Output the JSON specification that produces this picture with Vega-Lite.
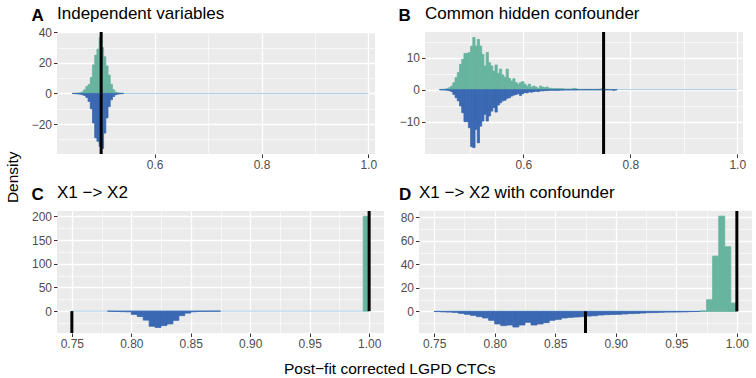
{
  "$schema": "https://vega.github.io/schema/vega-lite/v6.json",
  "background": "white",
  "padding": 5,
  "config": {
    "font": "Liberation Sans",
    "view": {"fill": "#ebebeb", "stroke": null},
    "rect": {"opacity": 1, "strokeWidth": 0.8},
    "axis": {"domain": false, "gridColor": "#ffffff", "tickColor": "#333333", "tickSize": 3.5, "tickWidth": 1, "labelColor": "#4d4d4d", "labelFontSize": 12, "labelPadding": 2, "labelFlush": false, "labelOverlap": false},
    "axisY": {"titleAngle": 0, "titleAlign": "left", "titleBaseline": "alphabetic", "titleY": -12, "titleFontSize": 17, "titleFontWeight": "bold", "titleColor": "black", "titleFont": "Liberation Sans"},
    "title": {"anchor": "start", "frame": "group", "fontSize": 17, "fontWeight": "normal", "color": "black", "offset": -17}
  },
  "datasets": {
    "zero": [
      {"p": "A", "x": 0.4455, "xe": 1.0, "y": 0},
      {"p": "B", "x": 0.444, "xe": 1.0, "y": 0},
      {"p": "C", "x": 0.75, "xe": 1.0, "y": 0},
      {"p": "D", "x": 0.75, "xe": 1.0, "y": 0}
    ],
    "truth": [
      {"p": "A", "x": 0.5, "y": 0, "ye": 40.2},
      {"p": "A", "x": 0.5, "y": 0, "ye": -39.6},
      {"p": "B", "x": 0.75, "y": 0, "ye": 18.0},
      {"p": "B", "x": 0.75, "y": 0, "ye": -20.1},
      {"p": "C", "x": 1.0, "y": 0, "ye": 211.2},
      {"p": "C", "x": 0.75, "y": 0, "ye": -46.2},
      {"p": "D", "x": 1.0, "y": 0, "ye": 85.4},
      {"p": "D", "x": 0.875, "y": 0, "ye": -18.4}
    ],
    "hist": [
      {"p":"A","x":0.44645,"xe":0.4506,"g":0.1,"b":-0.1},
      {"p":"A","x":0.4506,"xe":0.45475,"g":0.15,"b":-0.2},
      {"p":"A","x":0.45475,"xe":0.4589,"g":0.25,"b":-0.3},
      {"p":"A","x":0.4589,"xe":0.46305,"g":0.4,"b":-0.5},
      {"p":"A","x":0.46305,"xe":0.4672,"g":1.0,"b":-0.8},
      {"p":"A","x":0.4672,"xe":0.47135,"g":2.4,"b":-1.3},
      {"p":"A","x":0.47135,"xe":0.4755,"g":4.6,"b":-2.6},
      {"p":"A","x":0.4755,"xe":0.47965,"g":5.8,"b":-5.2},
      {"p":"A","x":0.47965,"xe":0.4838,"g":10.5,"b":-10},
      {"p":"A","x":0.4838,"xe":0.48795,"g":18.7,"b":-19.3},
      {"p":"A","x":0.48795,"xe":0.4921,"g":25,"b":-29},
      {"p":"A","x":0.4921,"xe":0.49625,"g":29,"b":-31.3},
      {"p":"A","x":0.49625,"xe":0.5004,"g":36.6,"b":-34.6},
      {"p":"A","x":0.5004,"xe":0.50455,"g":30,"b":-36},
      {"p":"A","x":0.50455,"xe":0.5087,"g":24,"b":-25.9},
      {"p":"A","x":0.5087,"xe":0.51285,"g":18,"b":-16},
      {"p":"A","x":0.51285,"xe":0.517,"g":12,"b":-8.5},
      {"p":"A","x":0.517,"xe":0.52115,"g":6,"b":-4.1},
      {"p":"A","x":0.52115,"xe":0.5253,"g":2.4,"b":-2},
      {"p":"A","x":0.5253,"xe":0.52945,"g":0.9,"b":-0.8},
      {"p":"A","x":0.52945,"xe":0.5336,"g":0.4,"b":-0.4},
      {"p":"A","x":0.5336,"xe":0.53775,"g":0.2,"b":-0.2},
      {"p":"A","x":0.53775,"xe":0.5419,"g":0.1,"b":-0.1},

      {"p":"B","x":0.4432,"xe":0.44735,"g":0.05,"b":-0.05},
      {"p":"B","x":0.44735,"xe":0.4515,"g":0.1,"b":-0.1},
      {"p":"B","x":0.4515,"xe":0.45565,"g":0.15,"b":-0.1},
      {"p":"B","x":0.45565,"xe":0.4598,"g":0.3,"b":-0.2},
      {"p":"B","x":0.4598,"xe":0.46395,"g":0.6,"b":-0.3},
      {"p":"B","x":0.46395,"xe":0.4681,"g":1.1,"b":-0.6},
      {"p":"B","x":0.4681,"xe":0.47225,"g":2.2,"b":-1.5},
      {"p":"B","x":0.47225,"xe":0.4764,"g":3.75,"b":-2.5},
      {"p":"B","x":0.4764,"xe":0.48055,"g":5.3,"b":-3.5},
      {"p":"B","x":0.48055,"xe":0.4847,"g":7.9,"b":-5.1},
      {"p":"B","x":0.4847,"xe":0.48885,"g":9.5,"b":-7.2},
      {"p":"B","x":0.48885,"xe":0.493,"g":11.3,"b":-10},
      {"p":"B","x":0.493,"xe":0.49715,"g":11.3,"b":-10},
      {"p":"B","x":0.49715,"xe":0.5013,"g":11.6,"b":-11.9},
      {"p":"B","x":0.5013,"xe":0.50545,"g":13.6,"b":-17.8},
      {"p":"B","x":0.50545,"xe":0.5096,"g":16.3,"b":-18.1},
      {"p":"B","x":0.5096,"xe":0.51375,"g":13.6,"b":-12.4},
      {"p":"B","x":0.51375,"xe":0.5179,"g":15.7,"b":-16.6},
      {"p":"B","x":0.5179,"xe":0.52205,"g":13.6,"b":-11.4},
      {"p":"B","x":0.52205,"xe":0.5262,"g":11,"b":-9.8},
      {"p":"B","x":0.5262,"xe":0.53035,"g":7.4,"b":-7.7},
      {"p":"B","x":0.53035,"xe":0.5345,"g":11.6,"b":-9.8},
      {"p":"B","x":0.5345,"xe":0.53865,"g":8.4,"b":-8.2},
      {"p":"B","x":0.53865,"xe":0.5428,"g":7.4,"b":-6.7},
      {"p":"B","x":0.5428,"xe":0.54695,"g":5.8,"b":-5.6},
      {"p":"B","x":0.54695,"xe":0.5511,"g":7.7,"b":-7},
      {"p":"B","x":0.5511,"xe":0.55525,"g":5.1,"b":-4.8},
      {"p":"B","x":0.55525,"xe":0.5594,"g":6.4,"b":-4.1},
      {"p":"B","x":0.5594,"xe":0.56355,"g":4.6,"b":-3.5},
      {"p":"B","x":0.56355,"xe":0.5677,"g":3.8,"b":-3.3},
      {"p":"B","x":0.5677,"xe":0.57185,"g":6.4,"b":-2.7},
      {"p":"B","x":0.57185,"xe":0.576,"g":3.5,"b":-2.5},
      {"p":"B","x":0.576,"xe":0.58015,"g":2.7,"b":-2},
      {"p":"B","x":0.58015,"xe":0.5843,"g":3.4,"b":-1.7},
      {"p":"B","x":0.5843,"xe":0.58845,"g":2.2,"b":-1.5},
      {"p":"B","x":0.58845,"xe":0.5926,"g":1.7,"b":-1.25},
      {"p":"B","x":0.5926,"xe":0.59675,"g":2.2,"b":-1.8},
      {"p":"B","x":0.59675,"xe":0.6009,"g":2.5,"b":-1.25},
      {"p":"B","x":0.6009,"xe":0.60505,"g":1.7,"b":-0.9},
      {"p":"B","x":0.60505,"xe":0.6092,"g":1.1,"b":-1},
      {"p":"B","x":0.6092,"xe":0.61335,"g":1.7,"b":-0.7},
      {"p":"B","x":0.61335,"xe":0.6175,"g":0.8,"b":-0.8},
      {"p":"B","x":0.6175,"xe":0.62165,"g":1.1,"b":-0.6},
      {"p":"B","x":0.62165,"xe":0.6258,"g":0.8,"b":-0.5},
      {"p":"B","x":0.6258,"xe":0.62995,"g":0.4,"b":-0.6},
      {"p":"B","x":0.62995,"xe":0.6341,"g":1.1,"b":-0.4},
      {"p":"B","x":0.6341,"xe":0.63825,"g":0.8,"b":-0.4},
      {"p":"B","x":0.63825,"xe":0.6424,"g":0.6,"b":-0.3},
      {"p":"B","x":0.6424,"xe":0.64655,"g":0.8,"b":-0.3},
      {"p":"B","x":0.64655,"xe":0.6507,"g":0.4,"b":-0.2},
      {"p":"B","x":0.6507,"xe":0.65485,"g":0.4,"b":-0.2},
      {"p":"B","x":0.65485,"xe":0.659,"g":0.3,"b":-0.2},
      {"p":"B","x":0.659,"xe":0.66315,"g":0.3,"b":-0.2},
      {"p":"B","x":0.66315,"xe":0.6673,"g":0.3,"b":-0.2},
      {"p":"B","x":0.6673,"xe":0.67145,"g":0.3,"b":-0.15},
      {"p":"B","x":0.67145,"xe":0.6756,"g":0.3,"b":-0.15},
      {"p":"B","x":0.6756,"xe":0.67975,"g":0.2,"b":-0.1},
      {"p":"B","x":0.67975,"xe":0.6839,"g":0.2,"b":-0.1},
      {"p":"B","x":0.6839,"xe":0.68805,"g":0.2,"b":-0.1},
      {"p":"B","x":0.68805,"xe":0.6922,"g":0.2,"b":-0.1},
      {"p":"B","x":0.6922,"xe":0.69635,"g":0.4,"b":-0.1},
      {"p":"B","x":0.69635,"xe":0.7005,"g":0.3,"b":-0.1},
      {"p":"B","x":0.7005,"xe":0.70465,"g":0.1,"b":-0.05},
      {"p":"B","x":0.70465,"xe":0.7088,"g":0.1,"b":-0.05},
      {"p":"B","x":0.7088,"xe":0.71295,"g":0.1,"b":-0.05},
      {"p":"B","x":0.71295,"xe":0.7171,"g":0.1,"b":-0.05},
      {"p":"B","x":0.7171,"xe":0.72125,"g":0.1,"b":-0.05},
      {"p":"B","x":0.72125,"xe":0.7254,"g":0.1,"b":-0.05},
      {"p":"B","x":0.7254,"xe":0.72955,"g":0.1,"b":-0.05},
      {"p":"B","x":0.72955,"xe":0.7337,"g":0.1,"b":-0.05},
      {"p":"B","x":0.7337,"xe":0.73785,"g":0.1,"b":-0.05},
      {"p":"B","x":0.73785,"xe":0.742,"g":0.1,"b":-0.05},
      {"p":"B","x":0.742,"xe":0.74615,"g":0.2,"b":-0.05},
      {"p":"B","x":0.74615,"xe":0.7503,"g":0.4,"b":-0.05},
      {"p":"B","x":0.7503,"xe":0.75445,"g":0.1,"b":-0.05},
      {"p":"B","x":0.75445,"xe":0.7586,"g":0.1,"b":-0.05},
      {"p":"B","x":0.7586,"xe":0.76275,"g":0.05,"b":-0.05},
      {"p":"B","x":0.76275,"xe":0.7669,"g":0.05,"b":-0.05},
      {"p":"B","x":0.7669,"xe":0.77105,"g":0.05,"b":-0.2},
      {"p":"B","x":0.77105,"xe":0.7752,"g":0.05,"b":-0.05},

      {"p":"C","x":0.780,"xe":0.785,"g":0,"b":-0.3},
      {"p":"C","x":0.785,"xe":0.790,"g":0,"b":-0.8},
      {"p":"C","x":0.790,"xe":0.795,"g":0,"b":-1.2},
      {"p":"C","x":0.795,"xe":0.800,"g":0,"b":-1.5},
      {"p":"C","x":0.800,"xe":0.805,"g":0,"b":-7},
      {"p":"C","x":0.805,"xe":0.810,"g":0,"b":-11.5},
      {"p":"C","x":0.810,"xe":0.815,"g":0,"b":-19},
      {"p":"C","x":0.815,"xe":0.820,"g":0,"b":-32},
      {"p":"C","x":0.820,"xe":0.825,"g":0,"b":-34.5},
      {"p":"C","x":0.825,"xe":0.830,"g":0,"b":-30.5},
      {"p":"C","x":0.830,"xe":0.835,"g":0,"b":-27},
      {"p":"C","x":0.835,"xe":0.840,"g":0,"b":-19.5},
      {"p":"C","x":0.840,"xe":0.845,"g":0,"b":-9.5},
      {"p":"C","x":0.845,"xe":0.850,"g":0,"b":-4.2},
      {"p":"C","x":0.850,"xe":0.855,"g":0,"b":-1.4},
      {"p":"C","x":0.855,"xe":0.860,"g":0,"b":-0.6},
      {"p":"C","x":0.860,"xe":0.865,"g":0,"b":-0.4},
      {"p":"C","x":0.865,"xe":0.870,"g":0,"b":-0.3},
      {"p":"C","x":0.870,"xe":0.875,"g":0,"b":-0.2},
      {"p":"C","x":0.995,"xe":1.000,"g":200,"b":0},

      {"p":"D","x":0.750,"xe":0.755,"g":0,"b":-0.2},
      {"p":"D","x":0.755,"xe":0.760,"g":0,"b":-0.4},
      {"p":"D","x":0.760,"xe":0.765,"g":0,"b":-0.6},
      {"p":"D","x":0.765,"xe":0.770,"g":0,"b":-0.9},
      {"p":"D","x":0.770,"xe":0.775,"g":0,"b":-1.7},
      {"p":"D","x":0.775,"xe":0.780,"g":0,"b":-2.5},
      {"p":"D","x":0.780,"xe":0.785,"g":0,"b":-3.4},
      {"p":"D","x":0.785,"xe":0.790,"g":0,"b":-4.5},
      {"p":"D","x":0.790,"xe":0.795,"g":0,"b":-5.6},
      {"p":"D","x":0.795,"xe":0.800,"g":0,"b":-7.6},
      {"p":"D","x":0.800,"xe":0.805,"g":0,"b":-10.7},
      {"p":"D","x":0.805,"xe":0.810,"g":0,"b":-12.1},
      {"p":"D","x":0.810,"xe":0.815,"g":0,"b":-11.6},
      {"p":"D","x":0.815,"xe":0.820,"g":0,"b":-13.3},
      {"p":"D","x":0.820,"xe":0.825,"g":0,"b":-11.6},
      {"p":"D","x":0.825,"xe":0.830,"g":0,"b":-9.3},
      {"p":"D","x":0.830,"xe":0.835,"g":0,"b":-11.6},
      {"p":"D","x":0.835,"xe":0.840,"g":0,"b":-10.7},
      {"p":"D","x":0.840,"xe":0.845,"g":0,"b":-9.6},
      {"p":"D","x":0.845,"xe":0.850,"g":0,"b":-7.6},
      {"p":"D","x":0.850,"xe":0.855,"g":0,"b":-6.8},
      {"p":"D","x":0.855,"xe":0.860,"g":0,"b":-5.6},
      {"p":"D","x":0.860,"xe":0.865,"g":0,"b":-5.1},
      {"p":"D","x":0.865,"xe":0.870,"g":0,"b":-4.8},
      {"p":"D","x":0.870,"xe":0.875,"g":0,"b":-4.5},
      {"p":"D","x":0.875,"xe":0.880,"g":0,"b":-4.0},
      {"p":"D","x":0.880,"xe":0.885,"g":0,"b":-3.7},
      {"p":"D","x":0.885,"xe":0.890,"g":0,"b":-3.1},
      {"p":"D","x":0.890,"xe":0.895,"g":0,"b":-2.8},
      {"p":"D","x":0.895,"xe":0.900,"g":0,"b":-2.6},
      {"p":"D","x":0.900,"xe":0.905,"g":0,"b":-2.5},
      {"p":"D","x":0.905,"xe":0.910,"g":0,"b":-2.2},
      {"p":"D","x":0.910,"xe":0.915,"g":0,"b":-1.9},
      {"p":"D","x":0.915,"xe":0.920,"g":0,"b":-1.7},
      {"p":"D","x":0.920,"xe":0.925,"g":0,"b":-1.4},
      {"p":"D","x":0.925,"xe":0.930,"g":0,"b":-1.1},
      {"p":"D","x":0.930,"xe":0.935,"g":0,"b":-1.0},
      {"p":"D","x":0.935,"xe":0.940,"g":0,"b":-0.8},
      {"p":"D","x":0.940,"xe":0.945,"g":0,"b":-0.6},
      {"p":"D","x":0.945,"xe":0.950,"g":0,"b":-0.6},
      {"p":"D","x":0.950,"xe":0.955,"g":0,"b":-0.5},
      {"p":"D","x":0.955,"xe":0.960,"g":0,"b":-0.4},
      {"p":"D","x":0.960,"xe":0.965,"g":0,"b":-0.2},
      {"p":"D","x":0.965,"xe":0.970,"g":0,"b":-0.1},
      {"p":"D","x":0.970,"xe":0.975,"g":0.5,"b":0},
      {"p":"D","x":0.975,"xe":0.980,"g":9.9,"b":0},
      {"p":"D","x":0.980,"xe":0.985,"g":47,"b":0},
      {"p":"D","x":0.985,"xe":0.990,"g":81,"b":0},
      {"p":"D","x":0.990,"xe":0.995,"g":55,"b":0},
      {"p":"D","x":0.995,"xe":1.000,"g":7,"b":0}
    ]
  },
  "title": {"text": "Post\u2212fit corrected LGPD CTCs", "orient": "bottom", "anchor": "middle", "frame": "bounds", "fontSize": 15.5, "fontWeight": "normal", "offset": 12, "dx": 11},
  "vconcat": [
    {
      "title": {"text": "Density", "orient": "left", "anchor": "middle", "frame": "bounds", "fontSize": 15.5, "fontWeight": "normal", "offset": 10},
      "spacing": 13,
      "vconcat": [
        {
          "spacing": 21,
          "hconcat": [
            {
              "width": 318, "height": 122,
              "title": {"text": "Independent variables"},
              "encoding": {
                "x": {"field": "x", "type": "quantitative", "title": null,
                  "scale": {"domain": [0.4174, 1.0123], "nice": false, "zero": false},
                  "axis": {"values": [0.5, 0.6, 0.7, 0.8, 0.9, 1.0], "format": ".1f",
                    "labelExpr": "abs(datum.value*5-round(datum.value*5))<1e-6 ? datum.label : ''",
                    "tickOpacity": {"condition": {"test": "abs(datum.value*5-round(datum.value*5))<1e-6", "value": 1}, "value": 0},
                    "gridWidth": {"condition": {"test": "abs(datum.value*5-round(datum.value*5))<1e-6", "value": 1.3}, "value": 0.6}}},
                "y": {"field": "y", "type": "quantitative", "title": "A",
                  "scale": {"domain": [-39.6, 40.2], "nice": false, "zero": false},
                  "axis": {"titleX": -26, "values": [-30, -20, -10, 0, 10, 20, 30, 40], "format": "d",
                    "labelExpr": "datum.value % 20 == 0 ? datum.label : ''",
                    "tickOpacity": {"condition": {"test": "datum.value % 20 == 0", "value": 1}, "value": 0},
                    "gridWidth": {"condition": {"test": "datum.value % 20 == 0", "value": 1.3}, "value": 0.6}}}
              },
              "layer": [
                {"data": {"name": "zero"}, "transform": [{"filter": "datum.p === 'A'"}], "mark": {"type": "rule", "color": "#aacde4", "strokeWidth": 1}, "encoding": {"x2": {"field": "xe"}}},
                {"data": {"name": "hist"}, "transform": [{"filter": "datum.p === 'A'"}, {"fold": ["g", "b"], "as": ["k", "y"]}], "mark": {"type": "rect", "opacity": 1, "strokeWidth": 0.8},
                  "encoding": {"x2": {"field": "xe"}, "y2": {"datum": 0},
                    "color": {"field": "k", "type": "nominal", "scale": {"domain": ["g", "b"], "range": ["#67b49f", "#3a68b2"]}, "legend": null},
                    "stroke": {"field": "k", "type": "nominal", "scale": {"domain": ["g", "b"], "range": ["#67b49f", "#3a68b2"]}, "legend": null}}},
                {"data": {"name": "truth"}, "transform": [{"filter": "datum.p === 'A'"}], "mark": {"type": "rule", "color": "black", "strokeWidth": 3}, "encoding": {"y2": {"field": "ye"}}}
              ]
            },
            {
              "width": 318, "height": 122,
              "title": {"text": "Common hidden confounder"},
              "encoding": {
                "x": {"field": "x", "type": "quantitative", "title": null,
                  "scale": {"domain": [0.416, 1.0107], "nice": false, "zero": false},
                  "axis": {"values": [0.5, 0.6, 0.7, 0.8, 0.9, 1.0], "format": ".1f",
                    "labelExpr": "abs(datum.value*5-round(datum.value*5))<1e-6 ? datum.label : ''",
                    "tickOpacity": {"condition": {"test": "abs(datum.value*5-round(datum.value*5))<1e-6", "value": 1}, "value": 0},
                    "gridWidth": {"condition": {"test": "abs(datum.value*5-round(datum.value*5))<1e-6", "value": 1.3}, "value": 0.6}}},
                "y": {"field": "y", "type": "quantitative", "title": "B",
                  "scale": {"domain": [-20.1, 18.0], "nice": false, "zero": false},
                  "axis": {"titleX": -27, "values": [-15, -10, -5, 0, 5, 10, 15], "format": "d",
                    "labelExpr": "datum.value % 10 == 0 ? datum.label : ''",
                    "tickOpacity": {"condition": {"test": "datum.value % 10 == 0", "value": 1}, "value": 0},
                    "gridWidth": {"condition": {"test": "datum.value % 10 == 0", "value": 1.3}, "value": 0.6}}}
              },
              "layer": [
                {"data": {"name": "zero"}, "transform": [{"filter": "datum.p === 'B'"}], "mark": {"type": "rule", "color": "#aacde4", "strokeWidth": 1}, "encoding": {"x2": {"field": "xe"}}},
                {"data": {"name": "hist"}, "transform": [{"filter": "datum.p === 'B'"}, {"fold": ["g", "b"], "as": ["k", "y"]}], "mark": {"type": "rect", "opacity": 1, "strokeWidth": 0.8},
                  "encoding": {"x2": {"field": "xe"}, "y2": {"datum": 0},
                    "color": {"field": "k", "type": "nominal", "scale": {"domain": ["g", "b"], "range": ["#67b49f", "#3a68b2"]}, "legend": null},
                    "stroke": {"field": "k", "type": "nominal", "scale": {"domain": ["g", "b"], "range": ["#67b49f", "#3a68b2"]}, "legend": null}}},
                {"data": {"name": "truth"}, "transform": [{"filter": "datum.p === 'B'"}], "mark": {"type": "rule", "color": "black", "strokeWidth": 3}, "encoding": {"y2": {"field": "ye"}}}
              ]
            }
          ]
        },
        {
          "spacing": 14,
          "hconcat": [
            {
              "width": 327, "height": 122,
              "title": {"text": "X1 \u2212> X2"},
              "encoding": {
                "x": {"field": "x", "type": "quantitative", "title": null,
                  "scale": {"domain": [0.7375, 1.0125], "nice": false, "zero": false},
                  "axis": {"values": [0.75, 0.775, 0.8, 0.825, 0.85, 0.875, 0.9, 0.925, 0.95, 0.975, 1.0], "format": ".2f",
                    "labelExpr": "abs(datum.value*20-round(datum.value*20))<1e-6 ? datum.label : ''",
                    "tickOpacity": {"condition": {"test": "abs(datum.value*20-round(datum.value*20))<1e-6", "value": 1}, "value": 0},
                    "gridWidth": {"condition": {"test": "abs(datum.value*20-round(datum.value*20))<1e-6", "value": 1.3}, "value": 0.6}}},
                "y": {"field": "y", "type": "quantitative", "title": "C",
                  "scale": {"domain": [-46.2, 211.2], "nice": false, "zero": false},
                  "axis": {"titleX": -26, "values": [-25, 0, 25, 50, 75, 100, 125, 150, 175, 200], "format": "d",
                    "labelExpr": "datum.value % 50 == 0 ? datum.label : ''",
                    "tickOpacity": {"condition": {"test": "datum.value % 50 == 0", "value": 1}, "value": 0},
                    "gridWidth": {"condition": {"test": "datum.value % 50 == 0", "value": 1.3}, "value": 0.6}}}
              },
              "layer": [
                {"data": {"name": "zero"}, "transform": [{"filter": "datum.p === 'C'"}], "mark": {"type": "rule", "color": "#aacde4", "strokeWidth": 1}, "encoding": {"x2": {"field": "xe"}}},
                {"data": {"name": "hist"}, "transform": [{"filter": "datum.p === 'C'"}, {"fold": ["g", "b"], "as": ["k", "y"]}, {"filter": "datum.y != 0"}], "mark": {"type": "rect", "opacity": 1, "strokeWidth": 0.8},
                  "encoding": {"x2": {"field": "xe"}, "y2": {"datum": 0},
                    "color": {"field": "k", "type": "nominal", "scale": {"domain": ["g", "b"], "range": ["#67b49f", "#3a68b2"]}, "legend": null},
                    "stroke": {"field": "k", "type": "nominal", "scale": {"domain": ["g", "b"], "range": ["#67b49f", "#3a68b2"]}, "legend": null}}},
                {"data": {"name": "truth"}, "transform": [{"filter": "datum.p === 'C'"}], "mark": {"type": "rule", "color": "black", "strokeWidth": 3}, "encoding": {"y2": {"field": "ye"}}}
              ]
            },
            {
              "width": 333, "height": 122,
              "title": {"text": "X1 \u2212> X2 with confounder"},
              "encoding": {
                "x": {"field": "x", "type": "quantitative", "title": null,
                  "scale": {"domain": [0.7375, 1.0125], "nice": false, "zero": false},
                  "axis": {"values": [0.75, 0.775, 0.8, 0.825, 0.85, 0.875, 0.9, 0.925, 0.95, 0.975, 1.0], "format": ".2f",
                    "labelExpr": "abs(datum.value*20-round(datum.value*20))<1e-6 ? datum.label : ''",
                    "tickOpacity": {"condition": {"test": "abs(datum.value*20-round(datum.value*20))<1e-6", "value": 1}, "value": 0},
                    "gridWidth": {"condition": {"test": "abs(datum.value*20-round(datum.value*20))<1e-6", "value": 1.3}, "value": 0.6}}},
                "y": {"field": "y", "type": "quantitative", "title": "D",
                  "scale": {"domain": [-18.4, 85.4], "nice": false, "zero": false},
                  "axis": {"titleX": -20.5, "values": [-10, 0, 10, 20, 30, 40, 50, 60, 70, 80], "format": "d",
                    "labelExpr": "datum.value % 20 == 0 ? datum.label : ''",
                    "tickOpacity": {"condition": {"test": "datum.value % 20 == 0", "value": 1}, "value": 0},
                    "gridWidth": {"condition": {"test": "datum.value % 20 == 0", "value": 1.3}, "value": 0.6}}}
              },
              "layer": [
                {"data": {"name": "zero"}, "transform": [{"filter": "datum.p === 'D'"}], "mark": {"type": "rule", "color": "#aacde4", "strokeWidth": 1}, "encoding": {"x2": {"field": "xe"}}},
                {"data": {"name": "hist"}, "transform": [{"filter": "datum.p === 'D'"}, {"fold": ["g", "b"], "as": ["k", "y"]}, {"filter": "datum.y != 0"}], "mark": {"type": "rect", "opacity": 1, "strokeWidth": 0.8},
                  "encoding": {"x2": {"field": "xe"}, "y2": {"datum": 0},
                    "color": {"field": "k", "type": "nominal", "scale": {"domain": ["g", "b"], "range": ["#67b49f", "#3a68b2"]}, "legend": null},
                    "stroke": {"field": "k", "type": "nominal", "scale": {"domain": ["g", "b"], "range": ["#67b49f", "#3a68b2"]}, "legend": null}}},
                {"data": {"name": "truth"}, "transform": [{"filter": "datum.p === 'D'"}], "mark": {"type": "rule", "color": "black", "strokeWidth": 3}, "encoding": {"y2": {"field": "ye"}}}
              ]
            }
          ]
        }
      ]
    }
  ]
}
